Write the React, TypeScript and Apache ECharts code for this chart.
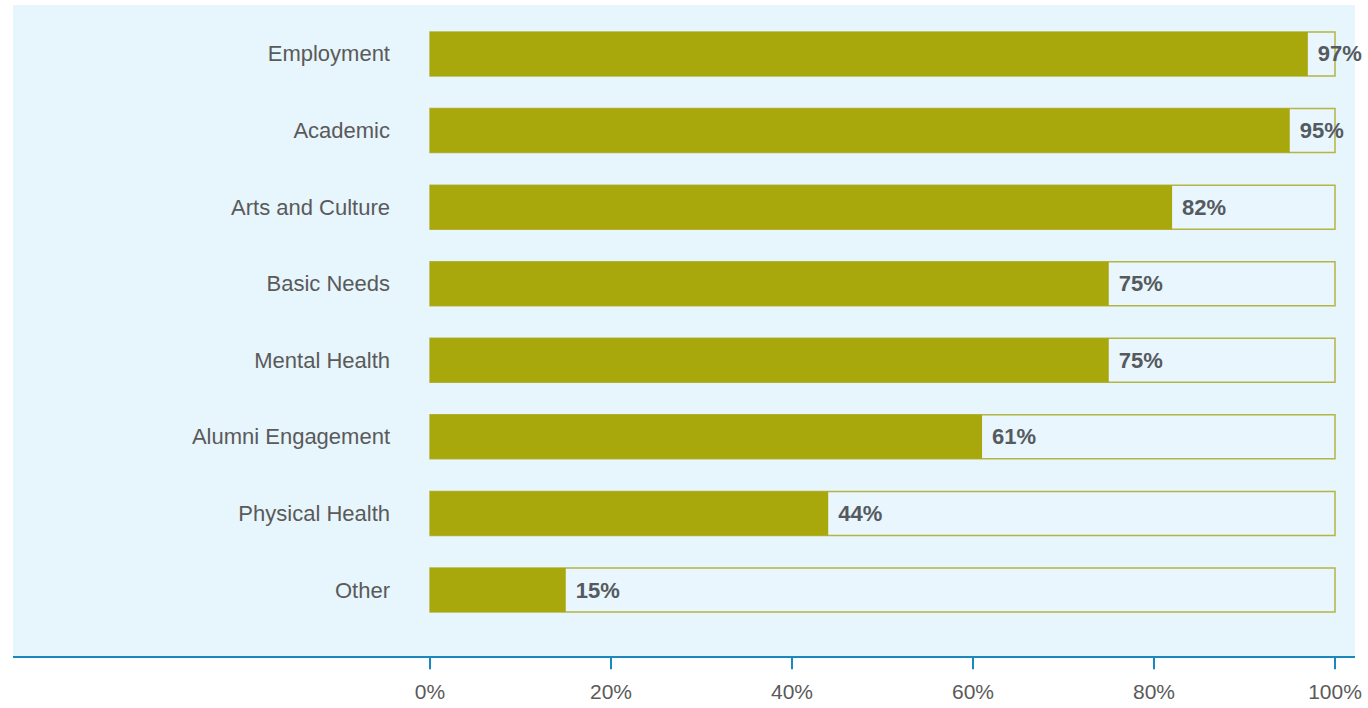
import React, { useEffect, useRef } from "react";
import * as echarts from "echarts";

const categories = [
  "Employment",
  "Academic",
  "Arts and Culture",
  "Basic Needs",
  "Mental Health",
  "Alumni Engagement",
  "Physical Health",
  "Other",
];
const values = [97, 95, 82, 75, 75, 61, 44, 15];
const tickValues = [0, 20, 40, 60, 80, 100];

export default function App() {
  const ref = useRef<HTMLDivElement>(null);
  useEffect(() => {
    document.body.style.margin = "0";
    if (!ref.current) return;
    const chart = echarts.init(ref.current, undefined, { renderer: "svg" });
    const font = "'Liberation Sans', Arial, sans-serif";
    chart.setOption({
      animation: false,
      graphic: [
        {
          type: "rect",
          z: -10,
          silent: true,
          shape: { x: 13, y: 5, width: 1342, height: 652 },
          style: { fill: "#E7F5FD" },
        },
        {
          type: "line",
          z: 10,
          silent: true,
          shape: { x1: 13, y1: 657, x2: 1355, y2: 657 },
          style: { stroke: "#1A88BF", lineWidth: 2 },
        },
      ],
      grid: { left: 430, right: 33, top: 15.7, bottom: 79.7, containLabel: false },
      xAxis: {
        type: "value",
        min: 0,
        max: 100,
        interval: 20,
        offset: 29,
        splitLine: { show: false },
        axisLine: { show: false },
        axisTick: { show: true, length: 12, lineStyle: { color: "#1A88BF", width: 2 } },
        axisLabel: {
          margin: 24,
          color: "#5a5a5a",
          fontSize: 21,
          fontFamily: font,
          formatter: (v: number) => (tickValues.includes(v) ? v + "%" : ""),
        },
      },
      yAxis: {
        type: "category",
        data: categories,
        inverse: true,
        axisLine: { show: false },
        axisTick: { show: false },
        axisLabel: {
          margin: 40,
          color: "#5a5a5a",
          fontSize: 22,
          fontFamily: font,
          padding: [8, 0, 0, 0],
        },
      },
      series: [
        {
          type: "bar",
          data: values,
          barWidth: 44,
          itemStyle: { color: "#A8A70C" },
          showBackground: true,
          backgroundStyle: {
            color: "#E9F6FD",
            borderColor: "#B4B545",
            borderWidth: 1.5,
          },
          label: {
            show: true,
            position: "right",
            distance: 10,
            formatter: "{c}%",
            color: "#555a5f",
            fontSize: 22,
            fontWeight: "bold",
            fontFamily: font,
            padding: [8, 0, 0, 0],
          },
        },
      ],
    });
    return () => chart.dispose();
  }, []);
  return <div ref={ref} style={{ width: 1368, height: 708 }} />;
}
